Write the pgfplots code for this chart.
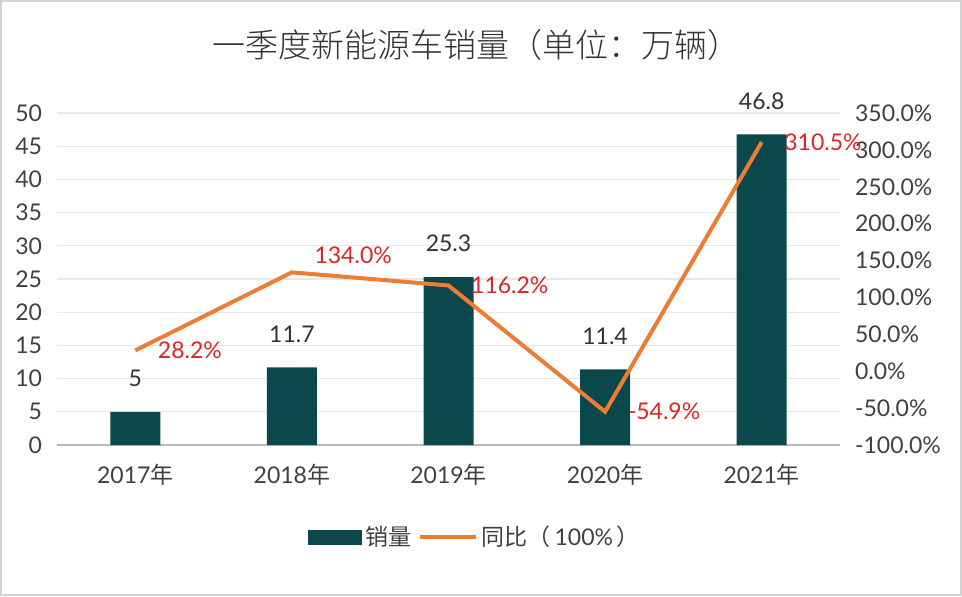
\documentclass[border=0pt]{standalone}
\usepackage{fontspec}
\setmainfont{Lato}
\newfontfamily\cjk{Noto Sans CJK SC}
\newfontfamily\cjklight{Noto Sans CJK SC Light}
\usepackage{pgfplots}
\pgfplotsset{compat=1.18}
\definecolor{barc}{RGB}{11,72,75}
\definecolor{linec}{RGB}{237,125,49}
\definecolor{redc}{RGB}{215,38,38}
\definecolor{txt}{RGB}{64,64,64}
\begin{document}
\begin{tikzpicture}
\path[use as bounding box] (0,0) rectangle (481pt,298pt);
\draw[gray!35, line width=0.8pt] (0.4pt,0.4pt) rectangle (480.6pt,297.6pt);
\node[font=\cjklight\fontsize{16.5}{18}\selectfont, text=black!80] at (238pt,275.5pt) {一季度新能源车销量（单位：万辆）};
\begin{axis}[at={(28.5pt,75.5pt)}, anchor=south west, scale only axis,
  width=391.5pt, height=166pt,
  xmin=-0.5, xmax=4.5, ymin=0, ymax=50,
  ytick={0,5,...,50}, xtick={0,1,2,3,4},
  xticklabels={2017{\cjk 年},2018{\cjk 年},2019{\cjk 年},2020{\cjk 年},2021{\cjk 年}},
  axis x line*=bottom, axis y line*=left,
  x axis line style={-, draw=gray!55, line width=0.8pt},
  y axis line style={draw=none},
  major tick length=0pt,
  ymajorgrids, grid style={gray!18, line width=0.6pt},
  tick label style={font=\fontsize{11.5}{13}\selectfont, text=txt},
  yticklabel style={xshift=-4pt},
  xticklabel style={yshift=-6pt},
  /pgf/number format/assume math mode=true,
  ybar, bar width=25pt,
  nodes near coords,
  nodes near coords style={font=\fontsize{11.5}{13}\selectfont, text=black!80, anchor=south, yshift=9pt},
]
\addplot[fill=barc, draw=none] coordinates {(0,5) (1,11.7) (2,25.3) (3,11.4) (4,46.8)};
\end{axis}
\begin{axis}[at={(28.5pt,75.5pt)}, anchor=south west, scale only axis,
  width=391.5pt, height=166pt,
  xmin=-0.5, xmax=4.5, ymin=-100, ymax=350,
  ytick={-100,-50,...,350},
  axis y line*=right, axis x line=none,
  y axis line style={draw=none},
  major tick length=0pt,
  tick label style={font=\fontsize{11.5}{13}\selectfont, text=txt},
  yticklabel={\pgfmathprintnumber[fixed,fixed zerofill,precision=1]{\tick}\%},
  yticklabel style={xshift=4pt},
  /pgf/number format/assume math mode=true,
  legend style={at={(0.535,-0.277)}, anchor=center, draw=none, fill=none,
    legend columns=2, font=\fontsize{11.5}{13}\selectfont, text=txt,
    /tikz/every even column/.append style={column sep=1pt}},
]
\addlegendimage{legend image code/.code={\fill[barc] (0pt,-3.5pt) rectangle (26.5pt,3.5pt);}}
\addlegendentry{\cjk 销量}
\addplot[linec, line width=2pt, mark=none,
  point meta=y,
  visualization depends on={\thisrow{dy} \as \dy},
  nodes near coords={\pgfmathprintnumber[fixed,fixed zerofill,precision=1]{\pgfplotspointmeta}\%},
  nodes near coords style={font=\fontsize{11.5}{13}\selectfont, text=redc, anchor=west, xshift=7pt, yshift=\dy pt},
  legend image code/.code={\draw[linec, line width=2pt] (0pt,0pt) -- (28pt,0pt);}
] table {
x y dy
0 28.2 0
1 134.0 8.5
2 116.2 0
3 -54.9 0
4 310.5 0
};
\addlegendentry{{\cjk 同比（}\,100\%\,{\cjk ）}}
\end{axis}
\end{tikzpicture}
\end{document}
